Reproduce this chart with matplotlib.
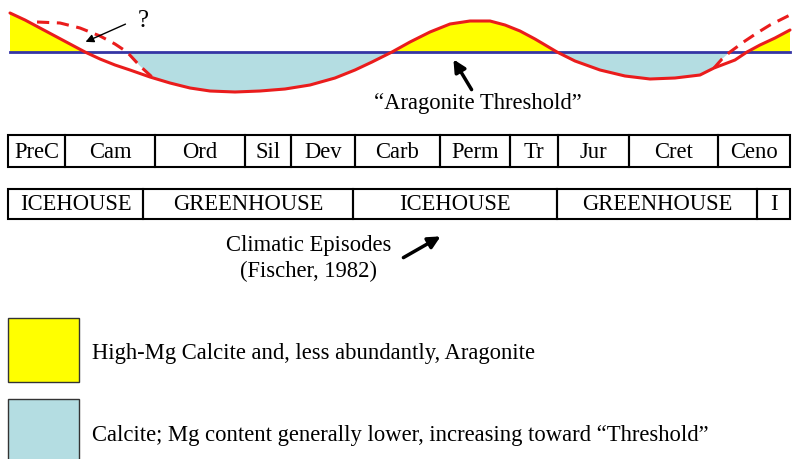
import numpy as np
import matplotlib.pyplot as plt
from matplotlib.patches import Rectangle

# threshold level (drawing units, y grows downward)
THRESHOLD = 52

# solid red curve: sea-water Mg/Ca trend
curve_x = [10, 25, 40, 55, 70, 85, 100, 115, 130, 150, 170, 190, 210, 235, 260,
           285, 310, 335, 355, 372, 392, 410, 430, 450, 470, 490, 505, 520, 535,
           557, 575, 600, 625, 650, 675, 700, 714, 735, 747, 760, 775, 790]
curve_y = [13, 20, 28, 36, 44, 52, 59, 65, 70, 77, 83, 88, 91, 92, 91,
           89, 85, 78, 70, 62, 52, 42, 32, 24, 21, 21, 25, 31, 39,
           52, 61, 70, 76, 79, 78, 75, 68, 60, 52, 45, 38, 30]

# dashed alternatives ("?")
dash_left_x = [37, 60, 80, 100, 115, 127, 140, 152]
dash_left_y = [22, 23, 28, 36, 44, 52, 66, 77]
dash_right_x = [714, 722, 730, 745, 757, 770, 790]
dash_right_y = [68, 59, 52, 41, 33, 25, 15]

# geological periods
periods = ["PreC", "Cam", "Ord", "Sil", "Dev", "Carb", "Perm", "Tr", "Jur", "Cret", "Ceno"]
period_edges = [8, 65, 155, 245, 291, 355, 440, 510, 558, 629, 718, 790]

# climatic episodes
episodes = ["ICEHOUSE", "GREENHOUSE", "ICEHOUSE", "GREENHOUSE", "I"]
episode_edges = [8, 143, 353, 557, 757, 790]

legend_labels = ["High-Mg Calcite and, less abundantly, Aragonite",
                 "Calcite; Mg content generally lower, increasing toward \u201cThreshold\u201d"]

YELLOW = "#ffff00"
CYAN = "#b4dde2"
RED = "#ea1c1c"
BLUE = "#3535a5"
FONT = "Liberation Serif"
FS = 16.3

fig = plt.figure(figsize=(7.92, 4.59), dpi=100)
ax = fig.add_axes([0, 0, 1, 1])
ax.set_xlim(0, 792)
ax.set_ylim(459, 0)
ax.axis("off")

cx = np.array(curve_x, dtype=float)
cy = np.array(curve_y, dtype=float)

# yellow: curve above threshold
ax.fill_between(cx, cy, THRESHOLD, where=cy <= THRESHOLD, interpolate=True,
                color=YELLOW, lw=0, zorder=1)

# cyan: below threshold, bounded by dashed lines
dlx, dly = np.array(dash_left_x, float), np.array(dash_left_y, float)
drx, dry = np.array(dash_right_x, float), np.array(dash_right_y, float)
m = (cx >= dlx[-1]) & (cx <= 392)
px = np.concatenate([dlx[dly >= THRESHOLD], cx[m]])
py = np.concatenate([dly[dly >= THRESHOLD], cy[m]])
ax.fill(px, py, color=CYAN, lw=0, zorder=1)
m = (cx >= 557) & (cx < drx[0])
px = np.concatenate([cx[m], drx[dry >= THRESHOLD]])
py = np.concatenate([cy[m], dry[dry >= THRESHOLD]])
ax.fill(px, py, color=CYAN, lw=0, zorder=1)

ax.plot([10, 790], [THRESHOLD, THRESHOLD], color=BLUE, lw=2.0, zorder=2)
ax.plot(cx, cy, color=RED, lw=2.2, zorder=3, solid_capstyle="round")
ax.plot(dlx, dly, color=RED, lw=2.2, ls=(0, (4, 2.5)), zorder=3)
ax.plot(drx, dry, color=RED, lw=2.2, ls=(0, (4, 2.5)), zorder=3)

# annotations
ax.annotate("", xy=(83, 43), xytext=(128, 23),
            arrowprops=dict(arrowstyle="-|>", color="black", lw=1.0,
                            mutation_scale=12))
ax.text(143, 21, "?", fontsize=18, family=FONT, ha="center", va="center")
ax.annotate("", xy=(452, 57), xytext=(473, 92),
            arrowprops=dict(arrowstyle="-|>", color="black", lw=2.5,
                            mutation_scale=18))
ax.text(478, 104, "\u201cAragonite Threshold\u201d", fontsize=FS, family=FONT,
        ha="center", va="center")


def draw_row(labels, edges, top, bottom):
    for i, lab in enumerate(labels):
        x0, x1 = edges[i], edges[i + 1]
        ax.add_patch(Rectangle((x0, top), x1 - x0, bottom - top, fill=False,
                               ec="black", lw=1.5, zorder=4))
        ax.text((x0 + x1) / 2, (top + bottom) / 2 + 1, lab, fontsize=FS, family=FONT,
                ha="center", va="center", zorder=5)


draw_row(periods, period_edges, 135, 167)
draw_row(episodes, episode_edges, 189, 219)

ax.text(309, 245, "Climatic Episodes", fontsize=FS, family=FONT, ha="center", va="center")
ax.text(309, 271, "(Fischer, 1982)", fontsize=FS, family=FONT, ha="center", va="center")
ax.annotate("", xy=(443, 235), xytext=(401, 259),
            arrowprops=dict(arrowstyle="-|>", color="black", lw=2.5,
                            mutation_scale=18))

# legend
for i, (col, lab) in enumerate(zip([YELLOW, CYAN], legend_labels)):
    top = 318 + i * 81
    ax.add_patch(Rectangle((8, top), 71, 64, fc=col, ec="#333333", lw=1.0, zorder=4))
    ax.text(92, top + 36, lab, fontsize=FS, family=FONT, ha="left", va="center")

fig.savefig("out.png", dpi=100)
